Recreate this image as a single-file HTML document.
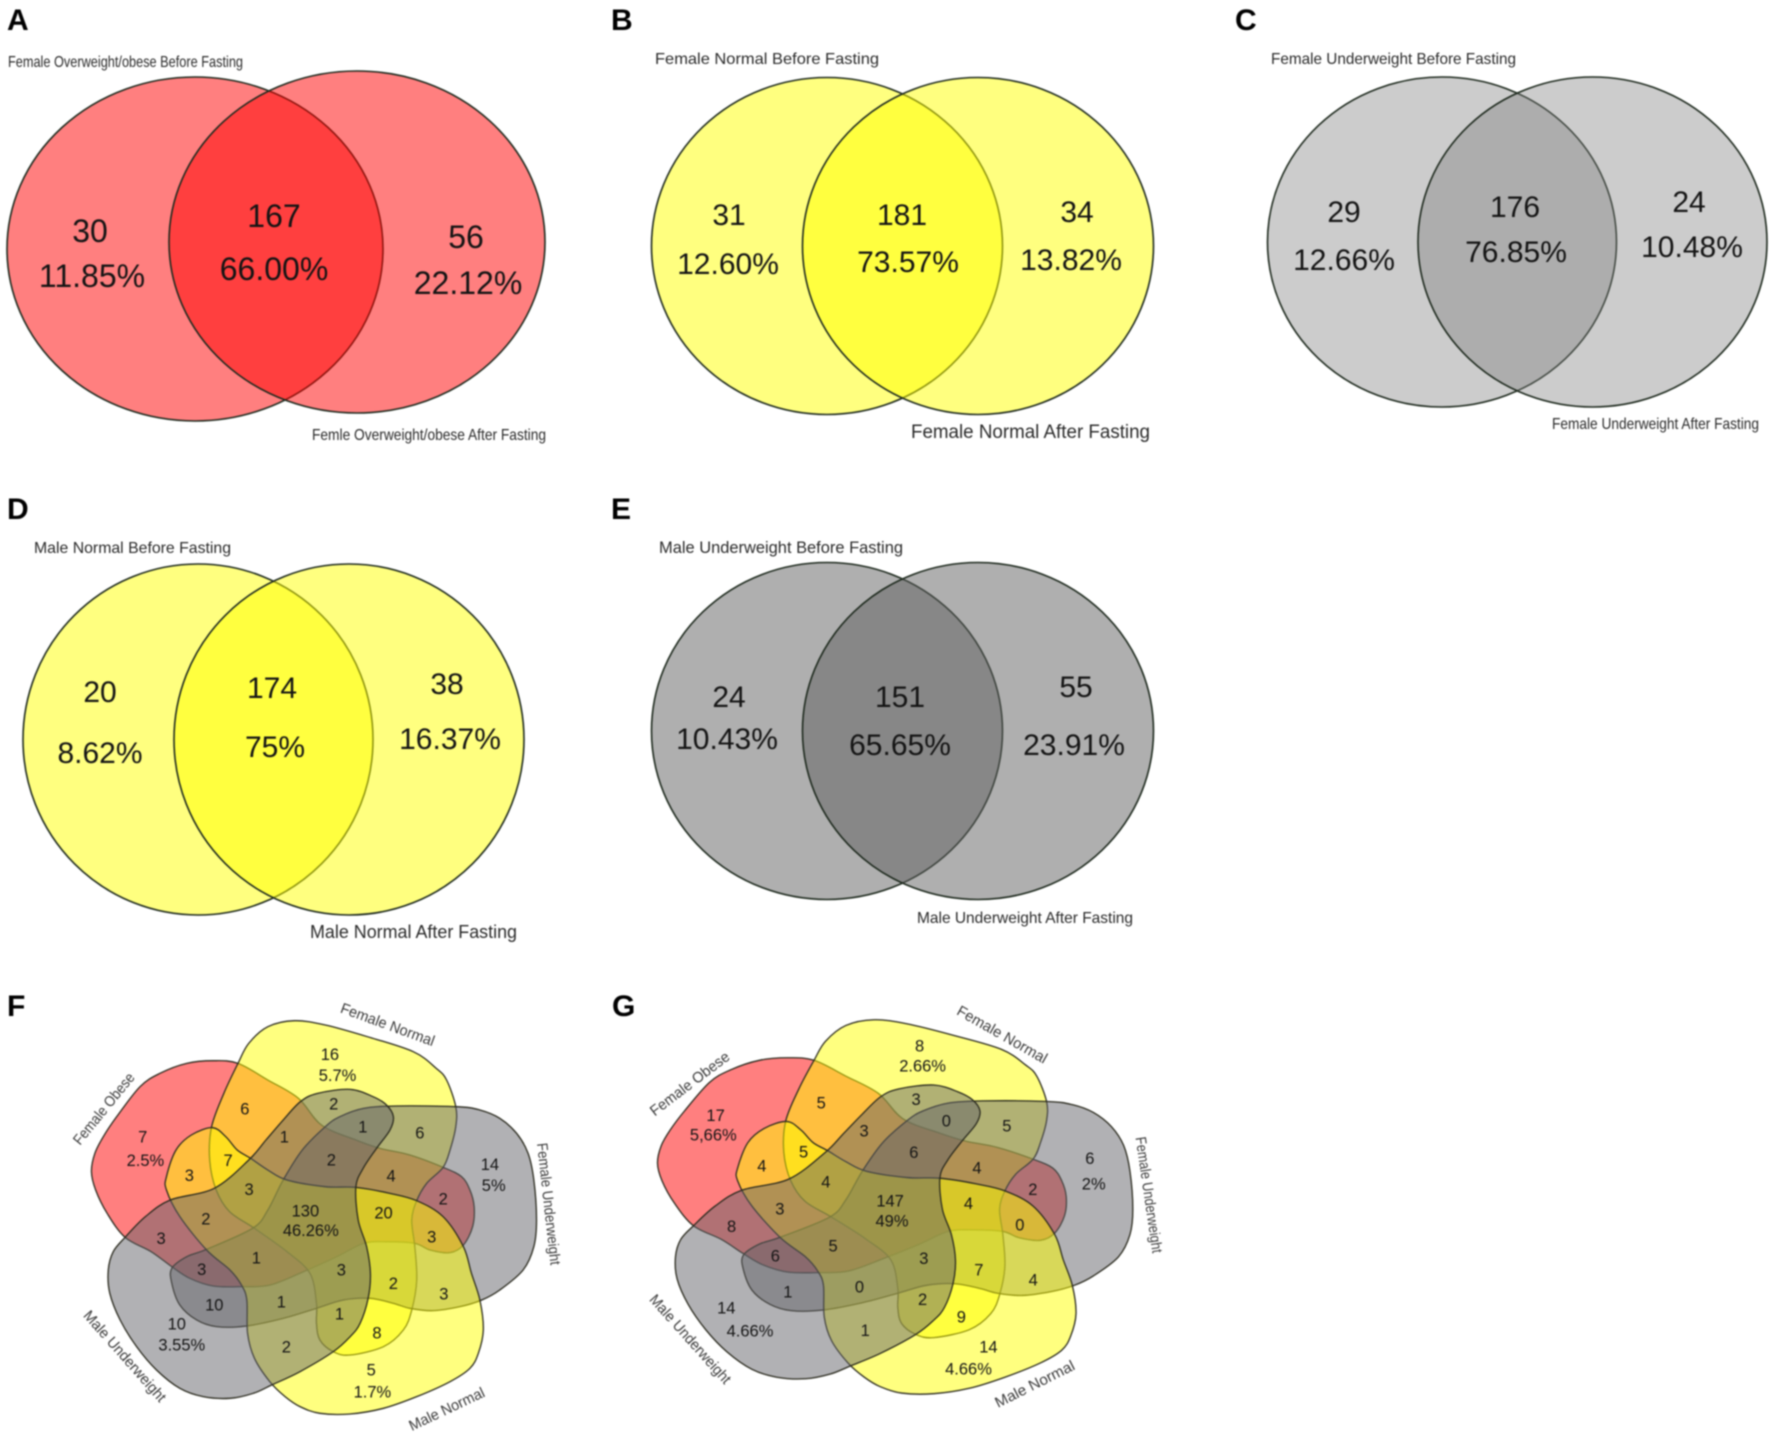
<!DOCTYPE html>
<html lang="en">
<head>
<meta charset="utf-8">
<title>Venn diagrams of fasting groups</title>
<style>
html,body{margin:0;padding:0;background:#fff;width:1772px;height:1433px;overflow:hidden}
svg{display:block;filter:blur(0.7px)}
text{font-family:"Liberation Sans",sans-serif;fill:#141414}
</style>
</head>
<body>
<svg id="chart" xmlns="http://www.w3.org/2000/svg" width="1772" height="1433" viewBox="0 0 1772 1433"></svg>
<script>
/* ---------- data ---------- */
const panelACounts = [30, 167, 56];
const panelAPercents = ['11.85%', '66.00%', '22.12%'];
const panelBCounts = [31, 181, 34];
const panelBPercents = ['12.60%', '73.57%', '13.82%'];
const panelCCounts = [29, 176, 24];
const panelCPercents = ['12.66%', '76.85%', '10.48%'];
const panelDCounts = [20, 174, 38];
const panelDPercents = ['8.62%', '75%', '16.37%'];
const panelECounts = [24, 151, 55];
const panelEPercents = ['10.43%', '65.65%', '23.91%'];

const panelFCounts = [16, 6, 2, 1, 6, 7, 1, 14, 3, 7, 2, 4, 3, 2, 130, 20, 2, 3, 3, 1, 3, 3, 2, 3, 1, 10, 1, 8, 10, 2, 5];
const panelFPercents = ['5.7%', '2.5%', '5%', '46.26%', '3.55%', '1.7%'];
const panelGCounts = [8, 5, 3, 0, 5, 17, 3, 6, 4, 5, 6, 4, 4, 2, 147, 4, 3, 8, 0, 5, 3, 6, 7, 4, 0, 1, 2, 9, 14, 1, 14];
const panelGPercents = ['2.66%', '5,66%', '2%', '49%', '4.66%', '4.66%'];

const fiveSetNames = ['Female Obese', 'Female Normal', 'Female Underweight', 'Male Normal', 'Male Underweight'];

/* ---------- layout (geometry only) ---------- */
const SVGNS = 'http://www.w3.org/2000/svg';
const root = document.getElementById('chart');

function make(tag, parent, attrs, name) {
  const el = document.createElementNS(SVGNS, tag);
  for (const k in attrs) el.setAttribute(k, attrs[k]);
  
  
  parent.appendChild(el);
  return el;
}
function label(parent, str, x, y, size, name, extra) {
  const t = make('text', parent, Object.assign({x: x, y: y, 'font-size': size, 'text-anchor': 'middle'}, extra || {}), name);
  t.textContent = str;
  return t;
}
function caption(parent, str, x0, x1, y, size, name) {
  const t = make('text', parent, {x: x0, y: y, 'font-size': size, textLength: x1 - x0, lengthAdjust: 'spacingAndGlyphs'}, name);
  t.style.fill = '#2a2a2a';
  t.textContent = str;
  return t;
}
function letter(str, x, y) {
  const t = make('text', root, {x: x, y: y, 'font-size': 30, 'font-weight': 'bold'}, 'panel-label-' + str.toLowerCase());
  t.style.fill = '#000';
  t.textContent = str;
}

const twoSetPanels = [
  {id: 'a', letter: ['A', 7, 30], counts: panelACounts, percents: panelAPercents, fill: '#ff0000', opacity: .5, size: 32,
   ell: [[195, 249, 188, 172], [357, 242, 188, 171]],
   cAt: [[90, 242], [274, 227], [466, 248]], pAt: [[92, 287], [274, 280], [468, 294]],
   cap: [['Female Overweight/obese Before Fasting', 8, 243, 67, 16], ['Femle Overweight/obese After Fasting', 312, 546, 440, 16]]},
  {id: 'b', letter: ['B', 611, 30], counts: panelBCounts, percents: panelBPercents, fill: '#ffff00', opacity: .5, size: 30,
   ell: [[827, 246, 175.5, 168.5], [978, 246, 175.5, 168.5]],
   cAt: [[729, 225], [902, 225], [1077, 222]], pAt: [[728, 274], [908, 272], [1071, 270]],
   cap: [['Female Normal Before Fasting', 655, 879, 64, 16], ['Female Normal After Fasting', 911, 1150, 438, 19]]},
  {id: 'c', letter: ['C', 1235, 30], counts: panelCCounts, percents: panelCPercents, fill: '#808080', opacity: .4, size: 30,
   ell: [[1442, 242, 174.5, 165], [1592.5, 242, 174.5, 165]],
   cAt: [[1344, 222], [1515, 217], [1689, 212]], pAt: [[1344, 270], [1516, 262], [1692, 257]],
   cap: [['Female Underweight Before Fasting', 1271, 1516, 64, 16], ['Female Underweight After Fasting', 1552, 1759, 429, 16]]},
  {id: 'd', letter: ['D', 7, 519], counts: panelDCounts, percents: panelDPercents, fill: '#ffff00', opacity: .5, size: 30,
   ell: [[198, 739.5, 175, 175.5], [349, 739.5, 175, 175.5]],
   cAt: [[100, 702], [272, 698], [447, 694]], pAt: [[100, 763], [275, 757], [450, 749]],
   cap: [['Male Normal Before Fasting', 34, 231, 553, 16], ['Male Normal After Fasting', 310, 517, 938, 18]]},
  {id: 'e', letter: ['E', 611, 519], counts: panelECounts, percents: panelEPercents, fill: '#606060', opacity: .5, size: 30,
   ell: [[827, 731, 175.5, 168.5], [978, 731, 175.5, 168.5]],
   cAt: [[729, 707], [900, 707], [1076, 697]], pAt: [[727, 749], [900, 755], [1074, 755]],
   cap: [['Male Underweight Before Fasting', 659, 903, 553, 17], ['Male Underweight After Fasting', 917, 1133, 923, 16]]}
];

const regionNames = ['left-only', 'overlap', 'right-only'];
const setNames = ['before-fasting', 'after-fasting'];

twoSetPanels.forEach(function (p) {
  letter(p.letter[0], p.letter[1], p.letter[2]);
  const g = make('g', root, {}, 'venn-panel-' + p.id);
  p.ell.forEach(function (e, i) {
    make('ellipse', g, {cx: e[0], cy: e[1], rx: e[2], ry: e[3], fill: p.fill, 'fill-opacity': p.opacity,
      stroke: '#1e2a1e', 'stroke-width': 1.6}, 'circle-' + setNames[i]);
  });
  p.counts.forEach(function (v, i) {
    label(g, String(v), p.cAt[i][0], p.cAt[i][1], p.size, 'count-' + regionNames[i]);
    label(g, p.percents[i], p.pAt[i][0], p.pAt[i][1], p.size, 'percent-' + regionNames[i]);
  });
  p.cap.forEach(function (c, i) {
    caption(g, c[0], c[1], c[2], c[3], c[4], 'set-title-' + setNames[i]);
  });
});

/* Petal outlines traced around the five-set layout */
const fiveSetCentre = [825, 735];
const petals = [
  {fill: '#ff0000', pts: [[622,250],[700,300],[780,355],[840,435],[930,480],[993,505],[1071,525],[1158,562],[1206,590],[1228,630],[1239,680],[1235,740],[1211,795],[1176,818],[1124,810],[1084,790],[1010,785],[950,790],[880,830],[793,875],[706,915],[631,920],[557,918],[496,895],[449,860],[395,815],[327,772],[280,700],[250,630],[239,575],[248,520],[270,470],[305,410],[366,320],[418,280],[488,250],[557,242]]},
  {fill: '#ffff00', pts: [[622,250],[650,190],[700,140],[770,122],[850,135],[960,170],[1080,215],[1140,265],[1167,300],[1191,380],[1191,440],[1176,510],[1158,562],[1115,610],[1089,662],[1076,720],[1084,800],[1089,900],[1076,990],[1054,1050],[1002,1100],[915,1125],[871,1115],[836,1080],[827,1030],[827,970],[810,880],[750,815],[665,745],[600,695],[565,630],[548,540],[553,440],[585,340]]},
  {fill: '#646469', pts: [[950,385],[1036,378],[1193,380],[1254,390],[1306,415],[1350,460],[1380,520],[1395,600],[1402,720],[1395,800],[1367,870],[1306,930],[1259,960],[1202,980],[1132,992],[1071,985],[1028,970],[967,955],[897,960],[827,985],[740,1015],[644,1038],[566,1040],[514,1020],[470,975],[449,910],[449,865],[488,830],[540,808],[660,745],[700,690],[740,600],[790,510],[850,440],[888,410]]},
  {fill: '#ffff00', pts: [[555,443],[590,470],[620,510],[655,535],[700,570],[750,600],[850,620],[930,622],[1019,640],[1089,662],[1158,710],[1211,800],[1232,880],[1254,960],[1263,1050],[1250,1120],[1228,1165],[1176,1205],[1089,1250],[1002,1285],[915,1302],[836,1300],[784,1280],[745,1250],[705,1205],[665,1135],[647,1060],[645,960],[631,915],[601,870],[540,810],[470,710],[435,630],[435,590],[460,510],[500,465]]},
  {fill: '#646469', pts: [[327,772],[380,710],[445,660],[560,625],[650,540],[695,480],[740,420],[785,365],[830,340],[915,328],[975,350],[1010,375],[1028,410],[1019,450],[984,505],[949,565],[930,620],[936,720],[958,800],[968,880],[962,955],[941,1030],[915,1070],[871,1115],[784,1175],[710,1215],[662,1240],[601,1255],[531,1250],[470,1225],[409,1170],[357,1100],[314,1020],[287,940],[283,870],[296,815]]}
];

function smoothClosed(pts) {
  const n = pts.length;
  let d = 'M' + pts[0][0] + ' ' + pts[0][1];
  for (let i = 0; i < n; i++) {
    const p0 = pts[(i - 1 + n) % n], p1 = pts[i], p2 = pts[(i + 1) % n], p3 = pts[(i + 2) % n];
    const c1x = p1[0] + (p2[0] - p0[0]) / 6, c1y = p1[1] + (p2[1] - p0[1]) / 6;
    const c2x = p2[0] - (p3[0] - p1[0]) / 6, c2y = p2[1] - (p3[1] - p1[1]) / 6;
    d += 'C' + c1x.toFixed(1) + ' ' + c1y.toFixed(1) + ' ' + c2x.toFixed(1) + ' ' + c2y.toFixed(1) + ' ' + p2[0] + ' ' + p2[1];
  }
  return d + 'Z';
}

const fiveSetPanels = [
  {id: 'f', letter: ['F', 7, 1016], counts: panelFCounts, percents: panelFPercents, x0: 0, cx: 315.7, cy: 1225, sx: .3827, sy: .3333,
   cAt: [[862,240],[640,403],[872,388],[948,458],[1097,475],[373,488],[743,487],[1280,570],[495,603],[596,558],[866,557],[1022,605],[651,645],[1158,673],[798,710],[1002,716],[538,733],[421,792],[1128,787],[670,851],[892,887],[527,885],[1028,927],[1160,958],[735,982],[560,992],[887,1018],[985,1075],[462,1048],[748,1117],[970,1187]],
   pAt: [[882,303],[380,558],[1290,633],[812,768],[475,1112],[973,1253]],
   setLabels: [[76.5,1143,132,1075],[341,1008,434,1042],[541.5,1143,555,1265],[410,1427,484,1392],[86,1313,163,1400]]},
  {id: 'g', letter: ['G', 612, 1016], counts: panelGCounts, percents: panelGPercents, x0: 600, cx: 897, cy: 1214, sx: .4087, sy: .3169,
   cAt: [[835,215],[578,386],[826,375],[905,440],[1063,455],[302,423],[690,470],[1280,552],[423,575],[532,533],[820,534],[985,580],[590,622],[1131,645],[758,680],[963,687],[470,703],[344,756],[1097,752],[609,815],[846,852],[458,845],[990,887],[1132,916],[678,938],[491,952],[843,975],[944,1028],[330,1000],[693,1068],[1015,1117]],
   pAt: [[843,275],[296,482],[1290,628],[763,740],[392,1070],[963,1183]],
   setLabels: [[652,1113,728,1055],[958,1010,1046,1060],[1140,1137,1157,1253],[996,1404,1074,1365],[652,1297,728,1382]]}
];

fiveSetPanels.forEach(function (p) {
  letter(p.letter[0], p.letter[1], p.letter[2]);
  const g = make('g', root, {}, 'venn-panel-' + p.id);
  petals.forEach(function (s, i) {
    const key = fiveSetNames[i].toLowerCase().replace(/ /g, '-');
    const rel = s.pts.map(function (q) { return [q[0] - fiveSetCentre[0], q[1] - fiveSetCentre[1]]; });
    make('path', g, {d: smoothClosed(rel), fill: s.fill, 'fill-opacity': .5, stroke: '#2a2a1e', 'stroke-width': 1.3,
      'vector-effect': 'non-scaling-stroke',
      transform: 'translate(' + p.cx + ' ' + p.cy + ') scale(' + p.sx + ' ' + p.sy + ')'}, 'petal-' + key);
  });
  const px = function (z) { return +(p.x0 + z / 2.613).toFixed(1); };
  const py = function (z) { return +(980 + z / 3).toFixed(1); };
  p.counts.forEach(function (v, i) {
    label(g, String(v), px(p.cAt[i][0]), py(p.cAt[i][1]), 16.5, 'region-count');
  });
  p.percents.forEach(function (v, i) {
    label(g, v, px(p.pAt[i][0]), py(p.pAt[i][1]), 16.5, 'region-percent');
  });
  fiveSetNames.forEach(function (nm, i) {
    const s = p.setLabels[i];
    const dx = s[2] - s[0], dy = s[3] - s[1];
    const ang = Math.atan2(dy, dx) * 180 / Math.PI;
    const len = Math.hypot(dx, dy);
    const t = make('text', g, {'font-size': 15, textLength: len.toFixed(1), lengthAdjust: 'spacingAndGlyphs',
      'dominant-baseline': 'central',
      transform: 'translate(' + s[0] + ' ' + s[1] + ') rotate(' + ang.toFixed(1) + ')'}, 'set-label-' + nm.toLowerCase().replace(/ /g, '-'));
    t.style.fill = '#3a3a3a';
    t.textContent = nm;
  });
});
</script>
</body>
</html>
